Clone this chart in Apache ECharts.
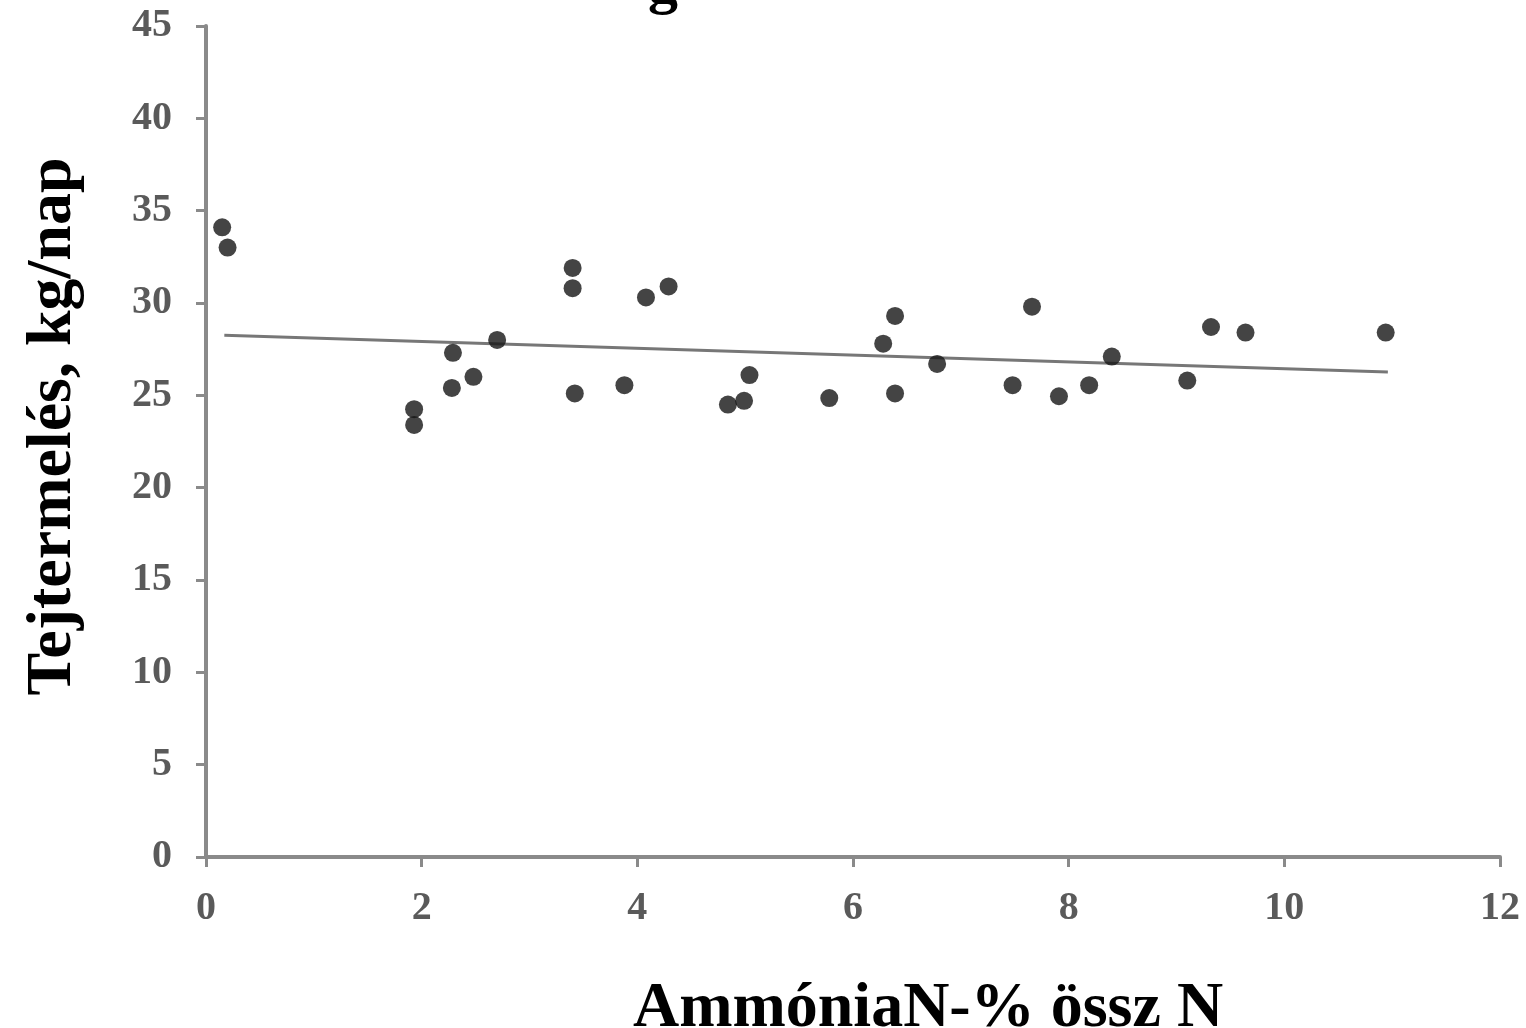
<!DOCTYPE html>
<html>
<head>
<meta charset="utf-8">
<script src="https://cdn.jsdelivr.net/npm/echarts@6/dist/echarts.min.js"></script>
<style>html,body{margin:0;padding:0;background:#fff;}#c{width:1526px;height:1028px;}</style>
</head>
<body>
<div id="c"></div>
<script>
const ammoniaN = [0.15,0.2,1.93,1.93,2.29,2.28,2.48,2.70,3.40,3.40,3.42,3.88,4.08,4.29,4.84,4.99,5.04,5.78,6.28,6.39,6.39,6.78,7.48,7.66,7.91,8.19,8.40,9.10,9.32,9.64,10.94];
const milkYield = [34.1,33.0,24.25,23.4,27.3,25.4,26.0,28.0,31.9,30.8,25.1,25.55,30.3,30.9,24.5,24.7,26.1,24.85,27.8,29.3,25.1,26.7,25.55,29.8,24.95,25.55,27.1,25.8,28.7,28.4,28.4];
const trendX = [0.17, 10.96];
const trendY = [28.26, 26.26];
const xTicks = [0,2,4,6,8,10,12];
const yTicks = [0,5,10,15,20,25,30,35,40,45];

const chart = echarts.init(document.getElementById('c'));
const serif = '"Liberation Serif", "DejaVu Serif", serif';
chart.setOption({
  animation: false,
  backgroundColor: '#fff',
  title: {
    text: 'g',
    left: 643,
    top: -49,
    textStyle: {fontFamily: serif, fontWeight: 'bold', fontSize: 60, color: '#000'}
  },
  grid: {left: 206, right: 26, top: 26, bottom: 171, containLabel: false, outerBoundsMode: 'none'},
  xAxis: {
    type: 'value', min: xTicks[0], max: xTicks[xTicks.length-1], interval: 2,
    name: 'AmmóniaN-% össz N', nameLocation: 'middle', nameGap: 120,
    nameTextStyle: {fontFamily: serif, fontWeight: 'bold', fontSize: 64, color: '#000', padding: [0,0,0,150]},
    axisLine: {lineStyle: {color: '#8a8a8a', width: 4}},
    axisTick: {show: true, length: 10, lineStyle: {color: '#8a8a8a', width: 3}},
    axisLabel: {margin: 32, fontFamily: serif, fontWeight: 'bold', fontSize: 40, color: '#5a5a5a'},
    splitLine: {show: false}
  },
  yAxis: {
    type: 'value', min: yTicks[0], max: yTicks[yTicks.length-1], interval: 5,
    name: 'Tejtermelés, kg/nap', nameLocation: 'middle', nameGap: 121,
    nameTextStyle: {fontFamily: serif, fontWeight: 'bold', fontSize: 64, color: '#000', padding: [0,0,0,30]},
    axisLine: {show: true, lineStyle: {color: '#8a8a8a', width: 4}},
    axisTick: {show: true, length: 10, lineStyle: {color: '#8a8a8a', width: 3}},
    axisLabel: {margin: 34, fontFamily: serif, fontWeight: 'bold', fontSize: 40, color: '#5a5a5a'},
    splitLine: {show: false}
  },
  series: [
    {
      type: 'line',
      data: trendX.map((x,i)=>[x, trendY[i]]),
      symbol: 'none',
      lineStyle: {color: '#777', width: 3},
      z: 1
    },
    {
      type: 'scatter',
      data: ammoniaN.map((x,i)=>[x, milkYield[i]]),
      symbol: 'circle',
      symbolSize: 18,
      itemStyle: {color: '#151515'},
      z: 2
    }
  ]
});
</script>
</body>
</html>
